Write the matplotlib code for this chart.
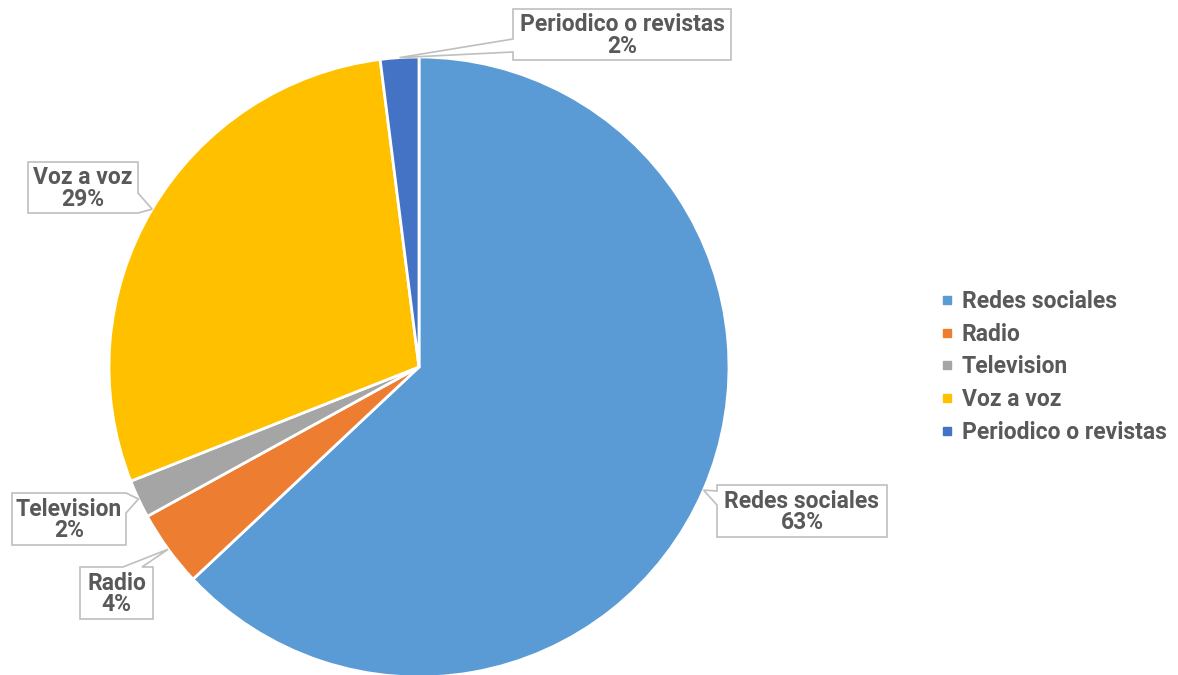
import matplotlib.pyplot as plt
from matplotlib.patches import Polygon
from matplotlib.lines import Line2D
import numpy as np

# share of respondents by information channel
categorias = ["Redes sociales", "Radio", "Television", "Voz a voz", "Periodico o revistas"]
porcentajes = [63, 4, 2, 29, 2]
colores = ["#5b9bd5", "#ed7d31", "#a5a5a5", "#ffc000", "#4472c4"]

W, H = 1178, 675
texto = "#595959"
borde = "#bfbfbf"

fig = plt.figure(figsize=(W / 100, H / 100), dpi=100)
ax = fig.add_axes([0, 0, 1, 1])

cx, cy, r = 419, H - 367, 310
wedges, _ = ax.pie(porcentajes, colors=colores, startangle=90, counterclock=False,
                   center=(cx, cy), radius=r, frame=True,
                   wedgeprops=dict(edgecolor="white", linewidth=2))
ax.set_xlim(0, W)
ax.set_ylim(0, H)
ax.set_aspect("auto")
ax.axis("off")

# callout boxes (x0, y0, x1, y1 in pixels from top-left), side of pointer, base span
cajas = {
    "Redes sociales": ((717, 485, 887, 537), "left", (491, 505)),
    "Radio": ((80, 567, 153, 619), "top", (123, 142)),
    "Television": ((12, 493, 126, 545), "right", (493, 513)),
    "Voz a voz": ((28, 162, 138, 213), "right", (193, 213)),
    "Periodico o revistas": ((513, 9, 731, 60), "left", (39, 52)),
}


def callout(caja, lado, base, punta):
    x0, y0, x1, y1 = caja
    b0, b1 = base
    if lado == "left":
        pts = [(x0, y0), (x1, y0), (x1, y1), (x0, y1), (x0, b1), punta, (x0, b0)]
    elif lado == "right":
        pts = [(x0, y0), (x1, y0), (x1, b0), punta, (x1, b1), (x1, y1), (x0, y1)]
    else:
        pts = [(x0, y0), (b0, y0), punta, (b1, y0), (x1, y0), (x1, y1), (x0, y1)]
    pts = [(px, H - py) for px, py in pts]
    ax.add_patch(Polygon(pts, closed=True, facecolor="white", edgecolor=borde,
                         linewidth=1.2, zorder=5))


for w, nombre, pct in zip(wedges, categorias, porcentajes):
    ang = np.deg2rad((w.theta1 + w.theta2) / 2)
    punta = (cx + r * np.cos(ang), H - (cy + r * np.sin(ang)))
    caja, lado, base = cajas[nombre]
    callout(caja, lado, base, punta)
    x0, y0, x1, y1 = caja
    ax.text((x0 + x1) / 2, H - (y0 + y1) / 2 - 1, f"{nombre}\n{pct}%", ha="center", va="center",
            fontsize=16.5, color=texto, fontweight="semibold", family="Roboto",
            linespacing=0.92, zorder=6)

handles = [Line2D([], [], marker="s", linestyle="none", markersize=6,
                  markerfacecolor=c, markeredgecolor=c) for c in colores]
leg = fig.legend(handles, categorias, loc="center left", bbox_to_anchor=(940 / W, 1 - 367 / H),
                 frameon=False, handlelength=0.6, handletextpad=0.35, labelspacing=0.43,
                 borderaxespad=0, borderpad=0,
                 prop=dict(family="Roboto", size=16.5, weight="semibold"))
for t in leg.get_texts():
    t.set_color(texto)

fig.savefig("out.png", dpi=100)
